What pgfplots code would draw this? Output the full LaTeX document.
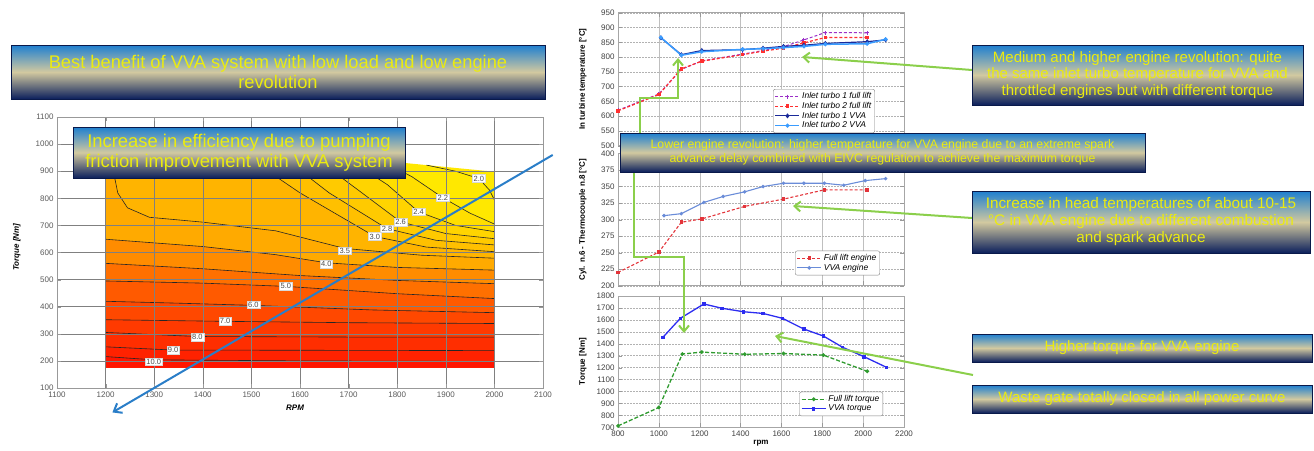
\documentclass[border=0pt]{standalone}
\usepackage{fontspec}
\setmainfont{Liberation Sans}
\usepackage{pgfplots}
\pgfplotsset{compat=1.18}
\usetikzlibrary{arrows.meta}

\definecolor{b00}{HTML}{FFE800}
\definecolor{b22}{HTML}{FFDE00}
\definecolor{b24}{HTML}{FFD400}
\definecolor{b26}{HTML}{FFCA00}
\definecolor{b28}{HTML}{FFC000}
\definecolor{b30}{HTML}{FFB400}
\definecolor{b35}{HTML}{FFAA00}
\definecolor{b40}{HTML}{FF8C00}
\definecolor{b45}{HTML}{FF7000}
\definecolor{b50}{HTML}{FF5A00}
\definecolor{b60}{HTML}{FF4800}
\definecolor{b70}{HTML}{FF3A00}
\definecolor{b80}{HTML}{FF2E00}
\definecolor{b90}{HTML}{FF2200}
\definecolor{b100}{HTML}{FF1500}
\definecolor{arrowblue}{HTML}{2A7EC8}
\definecolor{agreen}{HTML}{8BCF4B}
\definecolor{boxtop}{HTML}{1E7FD0}
\definecolor{boxmid}{HTML}{D2C9A0}
\definecolor{boxbot}{HTML}{0B1F5C}
\definecolor{boxtext}{HTML}{EBEB10}
\definecolor{cP}{HTML}{9B30C8}
\definecolor{cR}{HTML}{FF3030}
\definecolor{cDB}{HTML}{1A2A99}
\definecolor{cLB}{HTML}{3A9CFF}
\definecolor{cRed}{HTML}{E3343A}
\definecolor{cSteel}{HTML}{6A8CD8}
\definecolor{cGreen}{HTML}{2F9B2F}
\definecolor{cBlue}{HTML}{2C2CF0}

\newcommand\tickfont{\fontsize{8}{9}\selectfont}
\newcommand\annbox[7]{%
  \shade[top color=boxtop, bottom color=boxbot, middle color=boxmid, draw=boxbot!80!black, line width=0.6pt] (#1,#2) rectangle (#3,#4);
  \node[text=boxtext, align=center, font=\fontsize{#6}{#7}\selectfont, inner sep=0pt] at ({(#1+#3)/2},{(#2+#4)/2}) {#5};
}

\pgfplotsset{
  rightaxis/.style={anchor=south west, scale only axis, width=286pt,
    xmin=800, xmax=2200, xtick distance=200,
    grid=major, x grid style={black!25}, y grid style={black!30, dash pattern=on 1.5pt off 1.5pt},
    axis line style={black!35, line width=0.8pt}, tick style={black!40},
    tick label style={font=\tickfont, text=black!75},
    /pgf/number format/assume math mode=true, /pgf/number format/1000 sep={},
    ylabel style={font=\fontsize{8}{9}\selectfont\bfseries, at={(axis description cs:0,0.5)}, anchor=south, yshift=28pt},
    legend style={font=\fontsize{8.5}{9.5}\selectfont\itshape, draw=black!50, rounded corners=2pt, inner sep=1.5pt, row sep=-2pt, anchor=north west, cells={anchor=west}},
    legend image code/.code={\draw[mark repeat=2,mark phase=2,##1] plot coordinates {(0pt,0pt) (12pt,0pt) (24pt,0pt)};},
  },
}

\begin{document}
\begin{tikzpicture}
\useasboundingbox (0,0) rectangle (1314pt,-450pt);

% ================= LEFT CONTOUR MAP =================
\begin{axis}[
  at={(57pt,-388pt)}, anchor=south west, scale only axis, width=486pt, height=271pt,
  xmin=1100, xmax=2100, ymin=100, ymax=1100,
  xtick distance=100, ytick distance=100,
  grid=major, grid style={draw=black!50, line width=0.5pt},
  axis line style={draw=black!40}, tick style={draw=black!40},
  axis on top,
  tick label style={font=\tickfont, text=black!65},
  /pgf/number format/assume math mode=true, /pgf/number format/1000 sep={},
  xlabel={\textbf{\textit{RPM}}}, ylabel={\textbf{\textit{Torque [Nm]}}},
  xlabel style={font=\fontsize{8}{9}\selectfont, at={(axis description cs:0.49,0)}, anchor=north, yshift=-13pt},
  ylabel style={font=\fontsize{8}{9}\selectfont, at={(axis description cs:0,0.52)}, anchor=south, yshift=33pt},
]
% filled bands
\addplot[draw=none, fill=b00] coordinates {(1200,175) (2000,175) (2000,898) (1812,931) (1500,965) (1200,985)} -- cycle;
\addplot[draw=none, fill=b22] coordinates {(1770,935.6) (1830,880) (1894,802) (1950,745) (2000,705) (2000,175) (1200,175) (1200,985) (1500,965)} -- cycle;
\addplot[draw=none, fill=b24] coordinates {(1700,943.2) (1780,850) (1844,750) (1920,700) (2000,677) (2000,175) (1200,175) (1200,985) (1500,965)} -- cycle;
\addplot[draw=none, fill=b26] coordinates {(1630,950.8) (1720,830) (1807,713) (1900,670) (2000,651) (2000,175) (1200,175) (1200,985) (1500,965)} -- cycle;
\addplot[draw=none, fill=b28] coordinates {(1560,958.5) (1660,820) (1779,688) (1880,645) (2000,628) (2000,175) (1200,175) (1200,985) (1500,965)} -- cycle;
\addplot[draw=none, fill=b30] coordinates {(1480,966.3) (1600,820) (1754,659) (1860,620) (2000,603) (2000,175) (1200,175) (1200,985)} -- cycle;
\addplot[draw=none, fill=b35] coordinates {(1212,984.2) (1216,900) (1225,820) (1245,765) (1290,730) (1400,712) (1550,680) (1692,615) (1850,590) (2000,579) (2000,175) (1200,175) (1200,985)} -- cycle;
\addplot[draw=none, fill=b40] coordinates {(1200,649) (1400,622) (1550,592) (1654,562) (1800,545) (2000,535) (2000,175) (1200,175)} -- cycle;
\addplot[draw=none, fill=b45] coordinates {(1200,560) (1400,540) (1600,515) (1800,497) (2000,485) (2000,175) (1200,175)} -- cycle;
\addplot[draw=none, fill=b50] coordinates {(1200,495) (1400,487) (1571,475) (1800,448) (2000,430) (2000,175) (1200,175)} -- cycle;
\addplot[draw=none, fill=b60] coordinates {(1200,420) (1350,413) (1504,405) (1750,388) (2000,378) (2000,175) (1200,175)} -- cycle;
\addplot[draw=none, fill=b70] coordinates {(1200,352) (1446,346) (1700,341) (2000,338) (2000,175) (1200,175)} -- cycle;
\addplot[draw=none, fill=b80] coordinates {(1200,305) (1389,290) (1700,288) (2000,288) (2000,175) (1200,175)} -- cycle;
\addplot[draw=none, fill=b90] coordinates {(1200,252) (1339,240) (1700,239) (2000,238) (2000,175) (1200,175)} -- cycle;
\addplot[draw=none, fill=b100] coordinates {(1200,216) (1299,204) (1600,200) (2000,198) (2000,175) (1200,175)} -- cycle;
% contour lines
\addplot[black!85, line width=0.6pt] coordinates {(1860,922.6) (1920,900) (1968,873) (1990,830) (2000,794)};
\addplot[black!85, line width=0.6pt] coordinates {(1770,935.6) (1830,880) (1894,802) (1950,745) (2000,705)};
\addplot[black!85, line width=0.6pt] coordinates {(1700,943.2) (1780,850) (1844,750) (1920,700) (2000,677)};
\addplot[black!85, line width=0.6pt] coordinates {(1630,950.8) (1720,830) (1807,713) (1900,670) (2000,651)};
\addplot[black!85, line width=0.6pt] coordinates {(1560,958.5) (1660,820) (1779,688) (1880,645) (2000,628)};
\addplot[black!85, line width=0.6pt] coordinates {(1480,966.3) (1600,820) (1754,659) (1860,620) (2000,603)};
\addplot[black!85, line width=0.6pt] coordinates {(1212,984.2) (1216,900) (1225,820) (1245,765) (1290,730) (1400,712) (1550,680) (1692,615) (1850,590) (2000,579)};
\addplot[black!85, line width=0.6pt] coordinates {(1200,649) (1400,622) (1550,592) (1654,562) (1800,545) (2000,535)};
\addplot[black!85, line width=0.6pt] coordinates {(1200,560) (1400,540) (1600,515) (1800,497) (2000,485)};
\addplot[black!85, line width=0.6pt] coordinates {(1200,495) (1400,487) (1571,475) (1800,448) (2000,430)};
\addplot[black!85, line width=0.6pt] coordinates {(1200,420) (1350,413) (1504,405) (1750,388) (2000,378)};
\addplot[black!85, line width=0.6pt] coordinates {(1200,352) (1446,346) (1700,341) (2000,338)};
\addplot[black!85, line width=0.6pt] coordinates {(1200,305) (1389,290) (1700,288) (2000,288)};
\addplot[black!85, line width=0.6pt] coordinates {(1200,252) (1339,240) (1700,239) (2000,238)};
\addplot[black!85, line width=0.6pt] coordinates {(1200,216) (1299,204) (1600,200) (2000,198)};
% label anchors
\coordinate (L20) at (axis cs:1968,873);
\coordinate (L22) at (axis cs:1894,802);
\coordinate (L24) at (axis cs:1844,750);
\coordinate (L26) at (axis cs:1807,713);
\coordinate (L28) at (axis cs:1779,688);
\coordinate (L30) at (axis cs:1754,659);
\coordinate (L35) at (axis cs:1692,607);
\coordinate (L40) at (axis cs:1654,558);
\coordinate (L50) at (axis cs:1571,475);
\coordinate (L60) at (axis cs:1504,407);
\coordinate (L70) at (axis cs:1446,347);
\coordinate (L80) at (axis cs:1389,288);
\coordinate (L90) at (axis cs:1339,239);
\coordinate (L100) at (axis cs:1299,197);
\coordinate (BA1) at (axis cs:2120,960);
\coordinate (BA2) at (axis cs:1214,10);
\end{axis}

\foreach \n/\t in {L20/2.0,L22/2.2,L24/2.4,L26/2.6,L28/2.8,L30/3.0,L35/3.5,L40/4.0,L50/5.0,L60/6.0,L70/7.0,L80/8.0,L90/9.0,L100/10.0}
  \node[fill=white, draw=black!15, inner sep=1.2pt, font=\fontsize{7.5}{8}\selectfont, text=black!70] at (\n) {\t};
\draw[arrowblue, line width=2pt, -{Straight Barb[length=7pt,width=11pt]}] (BA1) -- (BA2);

% ================= RIGHT TOP: turbine temperature =================
\begin{axis}[rightaxis, at={(618pt,-145.7pt)}, height=133pt,
  ymin=500, ymax=950, ytick distance=50, xticklabels={},
  ylabel={In turbine temperature [°C]},
  legend style={at={(0.542,0.426)}}]
\addplot[cP, line width=1pt, dash pattern=on 3pt off 2pt, mark=+, mark size=2pt, mark options={solid}] coordinates {(800,620) (1000,675) (1110,758) (1210,787) (1410,810) (1510,822) (1610,835) (1710,858) (1815,883) (2020,882)};
\addlegendentry{Inlet turbo 1 full lift}
\addplot[cR, line width=1.2pt, dash pattern=on 3pt off 2pt, mark=square*, mark size=1.2pt, mark options={solid}] coordinates {(800,618) (1000,673) (1110,760) (1210,786) (1410,808) (1510,820) (1610,830) (1710,848) (1815,866) (2020,866)};
\addlegendentry{Inlet turbo 2 full lift}
\addplot[cDB, line width=1.2pt, mark=diamond*, mark size=1.6pt] coordinates {(1010,865) (1110,808) (1210,822) (1410,825) (1510,830) (1610,836) (1710,840) (1815,846) (2020,852) (2110,858)};
\addlegendentry{Inlet turbo 1 VVA}
\addplot[cLB, line width=1.5pt, mark=*, mark size=1.2pt] coordinates {(1010,866) (1110,806) (1210,818) (1410,826) (1510,828) (1610,832) (1710,836) (1815,843) (2020,845) (2110,860)};
\addlegendentry{Inlet turbo 2 VVA}
\end{axis}

% ================= RIGHT MIDDLE: head temperature =================
\begin{axis}[rightaxis, at={(618pt,-285.7pt)}, height=132.2pt,
  ymin=200, ymax=400, ytick distance=25, xticklabels={},
  ylabel={Cyl. n.6 - Thermocouple n.8 [°C]},
  legend style={at={(0.619,0.265)}}]
\addplot[cRed, line width=1.1pt, dash pattern=on 3pt off 2pt, mark=square*, mark size=1.2pt, mark options={solid}] coordinates {(800,220) (1000,251) (1110,296) (1210,301) (1420,320) (1610,331) (1810,345) (2020,345)};
\addlegendentry{Full lift engine}
\addplot[cSteel, line width=1.1pt, mark=*, mark size=1.2pt] coordinates {(1025,306) (1110,309) (1220,326) (1315,335) (1420,342) (1510,350) (1610,355) (1710,355) (1810,355) (1905,352) (2010,359) (2110,362)};
\addlegendentry{VVA engine}
\end{axis}

% ================= RIGHT BOTTOM: torque =================
\begin{axis}[rightaxis, at={(618pt,-427.3pt)}, height=131.3pt,
  ymin=700, ymax=1800, ytick distance=100,
  ylabel={Torque [Nm]}, xlabel={rpm},
  xlabel style={font=\fontsize{8}{9}\selectfont\bfseries, yshift=3pt},
  legend style={at={(0.634,0.271)}}]
\addplot[cGreen, line width=1.3pt, dash pattern=on 4pt off 2pt, mark=*, mark size=1.2pt, mark options={solid}] coordinates {(800,712) (1000,866) (1115,1314) (1210,1330) (1420,1312) (1610,1318) (1805,1305) (2020,1169)};
\addlegendentry{Full lift torque}
\addplot[cBlue, line width=1.3pt, mark=square*, mark size=1.1pt] coordinates {(1020,1454) (1105,1613) (1220,1733) (1310,1697) (1415,1668) (1510,1654) (1605,1613) (1710,1523) (1805,1465) (1900,1370) (2005,1291) (2115,1202)};
\addlegendentry{VVA torque}
\end{axis}

% ================= ANNOTATIONS =================
\begin{scope}[x=1pt,y=-1pt]
\tikzset{garrow/.style={agreen, line width=2pt, -{Straight Barb[length=6pt,width=10pt]}}}
\draw[garrow] (972,70) -- (802,57);
\draw[garrow] (640,133) -- (640,98) -- (678,98) -- (678,58);
\draw[garrow] (634,172) -- (634,257) -- (684,257) -- (684,333);
\draw[garrow] (972,218) -- (793,206);
\draw[garrow] (973,375) -- (775,336);

\annbox{11}{45}{545}{99}{Best benefit of VVA system with low load and low engine\\revolution}{18.3}{20}
\annbox{73}{127}{405}{178}{Increase in efficiency due to pumping\\friction improvement with VVA system}{18.4}{20}
\annbox{972}{45}{1303}{105}{Medium and higher engine revolution: quite\\the same inlet turbo temperature for VVA and\\throttled engines but with different torque}{15}{16.7}
\annbox{620}{133}{1145}{172}{Lower engine revolution: higher temperature for VVA engine due to an extreme spark\\advance delay combined with EIVC regulation to achieve the maximum torque}{12.3}{13.4}
\annbox{972}{191}{1310}{253}{Increase in head temperatures of about 10-15\\°C in VVA engine due to different combustion\\and spark advance}{15.3}{17}
\annbox{972}{334}{1312}{362}{Higher torque for VVA engine}{15}{17}
\annbox{972}{385}{1312}{413}{Waste gate totally closed in all power curve}{15}{17}
\end{scope}
\end{tikzpicture}
\end{document}
